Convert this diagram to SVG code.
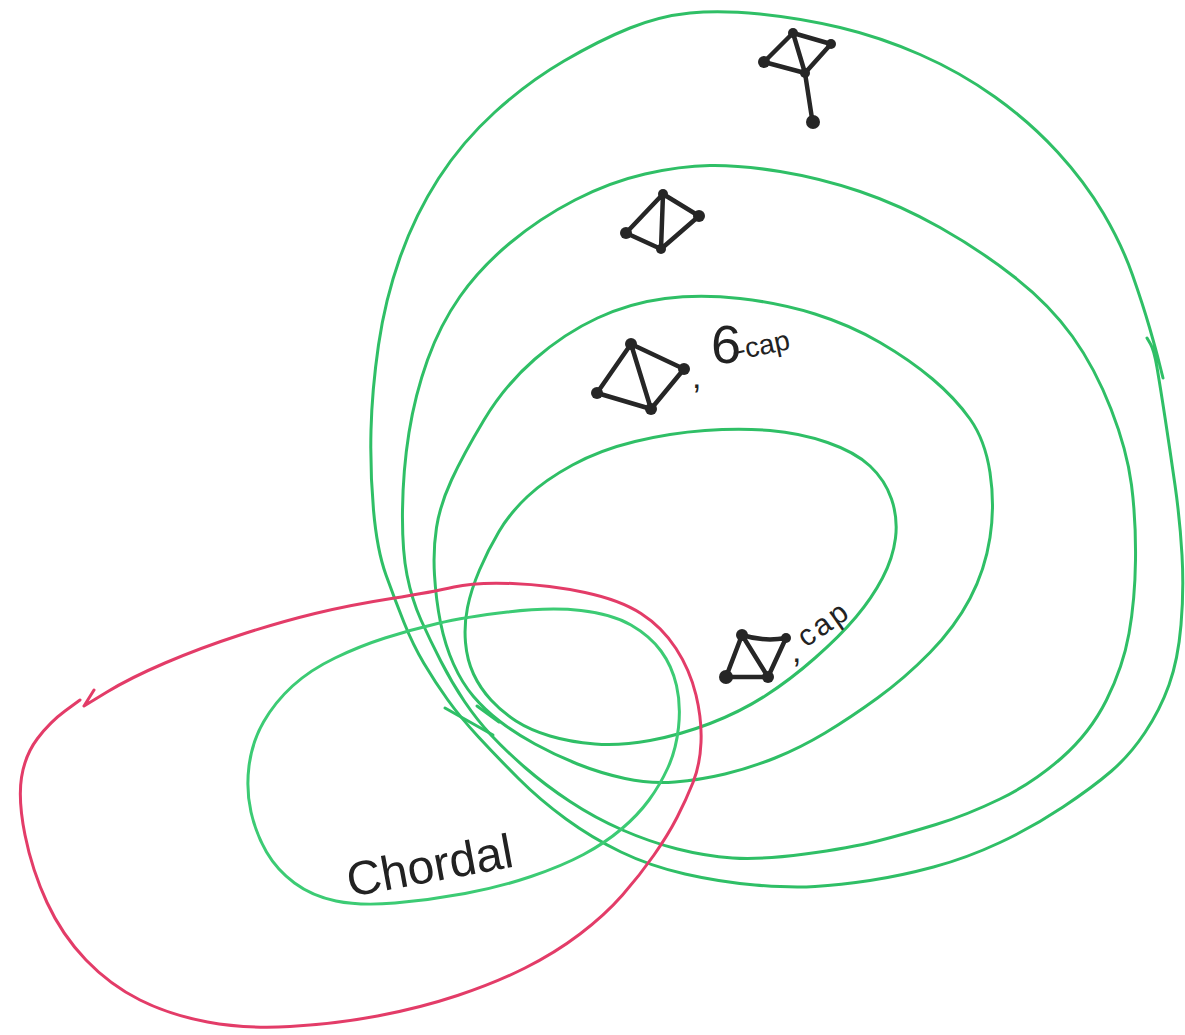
<svg xmlns="http://www.w3.org/2000/svg" width="1185" height="1035" viewBox="0 0 1185 1035">
<style>
.g{fill:none;stroke:#2fbf66;stroke-width:3;stroke-linecap:round;stroke-linejoin:round}
.ga{fill:none;stroke:#3ccb74;stroke-width:3;stroke-linecap:round;stroke-linejoin:round}
.r{fill:none;stroke:#e33c68;stroke-width:3;stroke-linecap:round;stroke-linejoin:round}
.e{fill:none;stroke:#262626;stroke-width:4.5;stroke-linecap:round;stroke-linejoin:round}
.n{fill:#262626}
.t{font-family:"Liberation Sans",Arial,sans-serif;fill:#222}
</style>
<rect width="1185" height="1035" fill="#ffffff"/>
<g id="connectors">
<path id="outer" class="g" d="M1147,338 L1150.5,344 Q1154,350 1157,367.5 Q1160,385 1165,417.5 Q1170,450 1175,485 Q1180,520 1182,555 Q1184,590 1181,625 Q1178,660 1169,685 Q1160,710 1145,732.5 Q1130,755 1111.5,771 Q1093,787 1063,807 Q1033,827 1000,842.5 Q967,858 933.5,867 Q900,876 870,880.5 Q840,885 815,886.5 Q790,888 755,885 Q720,882 685,874 Q650,866 621,852 Q592,838 566,819 Q540,800 518.5,778.5 Q497,757 478.5,737 Q460,717 447.5,699.5 Q435,682 424,663.5 Q413,645 404,622.5 Q395,600 386,575 Q377,550 373.5,510 Q370,470 371,430 Q372,390 378.5,345 Q385,300 400,257.5 Q415,215 438.5,178.5 Q462,142 495,112 Q528,82 564,61 Q600,40 630,28 Q660,16 690,13 Q720,10 760,14 Q800,18 840,27.5 Q880,37 920,54.5 Q960,72 995,97 Q1030,122 1057.5,152 Q1085,182 1103.5,213.5 Q1122,245 1132.5,275 Q1143,305 1149.5,327.5 Q1156,350 1159.5,364 L1163,378"/>
<path id="second" class="g" d="M402.5,510 Q402,550 407,575 Q412,600 421,620 Q430,640 441,661.5 Q452,683 464.5,701.5 Q477,720 491,735 Q505,750 525,767.5 Q545,785 570,801.5 Q595,818 622.5,830 Q650,842 677.5,849 Q705,856 732.5,858 Q760,860 805,854 Q850,848 877.5,841 Q905,834 936,824.5 Q967,815 1000,799 Q1033,783 1061.5,758 Q1090,733 1106.5,700 Q1123,667 1129,633.5 Q1135,600 1135.5,560 Q1136,520 1131.5,485 Q1127,450 1111,409 Q1095,368 1072.5,336.5 Q1050,305 1015,277.5 Q980,250 940,227.5 Q900,205 860,191.5 Q820,178 780,171.5 Q740,165 710,165.5 Q680,166 645,174 Q610,182 575,200 Q540,218 510,243 Q480,268 460,296.5 Q440,325 427.5,360 Q415,395 409,432.5 Q403,470 402.5,510 Z"/>
<path id="third" class="g" d="M436.5,527.5 Q433,550 434.5,575 Q436,600 440.5,622.5 Q445,645 453.5,664 Q462,683 473.5,696.5 Q485,710 500,721.5 Q515,733 535,744 Q555,755 577.5,764 Q600,773 625,778.5 Q650,784 675,782 Q700,780 725,774 Q750,768 775,758 Q800,748 825,733 Q850,718 877.5,698 Q905,678 930,652.5 Q955,627 970,598.5 Q985,570 990,537.5 Q995,505 990,472.5 Q985,440 970,419 Q955,398 932.5,379 Q910,360 880,342.5 Q850,325 815,314 Q780,303 740,298.5 Q700,294 665,298.5 Q630,303 597.5,318 Q565,333 535,359 Q505,385 484,420 Q463,455 451.5,480 Q440,505 436.5,527.5 Z"/>
<path id="inner" class="g" d="M499,531.5 Q488,550 479.5,570 Q471,590 467.5,607.5 Q464,625 465.5,642.5 Q467,660 473.5,674 Q480,688 491,700 Q502,712 516,721 Q530,730 550,736 Q570,742 595,744 Q620,746 650,740.5 Q680,735 710,723.5 Q740,712 765,696 Q790,680 815,658 Q840,636 856,617 Q872,598 882.5,578 Q893,558 895.5,538 Q898,518 891.5,499 Q885,480 870,466 Q855,452 827.5,442.5 Q800,433 770,430.5 Q740,428 705,430.5 Q670,433 635,441.5 Q600,450 572.5,465 Q545,480 527.5,496.5 Q510,513 499,531.5 Z"/>
<path class="g" d="M445,708 L493,735 M477,706 L499,722"/>
<path id="chordal" class="ga" d="M507.5,612 Q550,607 581,610.5 Q612,614 631,625 Q650,636 661,651 Q672,666 676.5,685.5 Q681,705 678.5,727.5 Q676,750 668,767.5 Q660,785 649,800 Q638,815 621.5,829 Q605,843 583.5,854.5 Q562,866 531,876.5 Q500,887 465,893.5 Q430,900 395,903 Q360,906 336,901 Q312,896 294.5,883 Q277,870 266.5,852 Q256,834 251,812 Q246,790 249,766 Q252,742 263.5,722 Q275,702 292.5,686 Q310,670 335,658 Q360,646 385,638 Q410,630 437.5,623.5 Q465,617 507.5,612 Z"/>
<path id="red" class="r" d="M84,706 L107,692 Q130,678 165,663 Q200,648 240,635 Q280,622 315,613.5 Q350,605 391.5,598.5 Q433,592 454,587 Q475,582 512.5,583.5 Q550,585 585,592.5 Q620,600 641,613.5 Q662,627 676,648.5 Q690,670 696,695 Q702,720 701,742.5 Q700,765 693,782.5 Q686,800 677,817.5 Q668,835 654,855 Q640,875 622.5,895 Q605,915 580,934 Q555,953 525,968 Q495,983 457.5,995.5 Q420,1008 377.5,1016 Q335,1024 290,1026.5 Q245,1029 207.5,1022 Q170,1015 140,1000 Q110,985 86,960 Q62,935 47,902.5 Q32,870 25,835 Q18,800 21.5,777.5 Q25,755 37.5,738.5 Q50,722 65,711 L80,700 M84,706 L94,690"/>
</g>
<g id="graph-top">
<path class="e" d="M793,33 L831,44 L805,73 L764,62 Z M793,33 L805,73 L813,125"/>
<circle class="n" cx="793" cy="33" r="5"/><circle class="n" cx="831" cy="44" r="5"/><circle class="n" cx="764" cy="62" r="6"/><circle class="n" cx="805" cy="73" r="5"/><circle class="n" cx="813" cy="122" r="7"/>
</g>
<g id="graph-second">
<path class="e" d="M663,194 L699,216 L661,249 L626,233 Z M663,194 L661,249"/>
<circle class="n" cx="663" cy="194" r="5"/><circle class="n" cx="699" cy="216" r="6"/><circle class="n" cx="626" cy="233" r="6"/><circle class="n" cx="661" cy="249" r="5"/>
</g>
<g id="graph-6cap">
<path class="e" d="M631,344 L684,369 L651,409 L597,393 Z M631,344 L651,409"/>
<circle class="n" cx="631" cy="344" r="6"/><circle class="n" cx="684" cy="369" r="6"/><circle class="n" cx="597" cy="393" r="6"/><circle class="n" cx="651" cy="409" r="6"/>
<text class="t" x="692" y="388" font-size="34">,</text>
<text class="t" x="711" y="363" font-size="54">6</text>
<text class="t" x="738" y="360" font-size="28" transform="rotate(-12 738 360)">-cap</text>
</g>
<g id="graph-cap">
<path class="e" d="M742,635 Q764,642 786,638 L768,677 L726,677 Z M742,635 L768,677"/>
<circle class="n" cx="742" cy="635" r="6"/><circle class="n" cx="786" cy="638" r="5"/><circle class="n" cx="726" cy="677" r="7"/><circle class="n" cx="768" cy="677" r="6"/>
<text class="t" x="792" y="662" font-size="34">,</text>
<text class="t" x="806" y="648" font-size="30" letter-spacing="3" transform="rotate(-35 806 648)">cap</text>
</g>
<g id="label-chordal">
<text class="t" x="350" y="897" font-size="48" transform="rotate(-10.5 350 897)">Chordal</text>
</g>
</svg>
